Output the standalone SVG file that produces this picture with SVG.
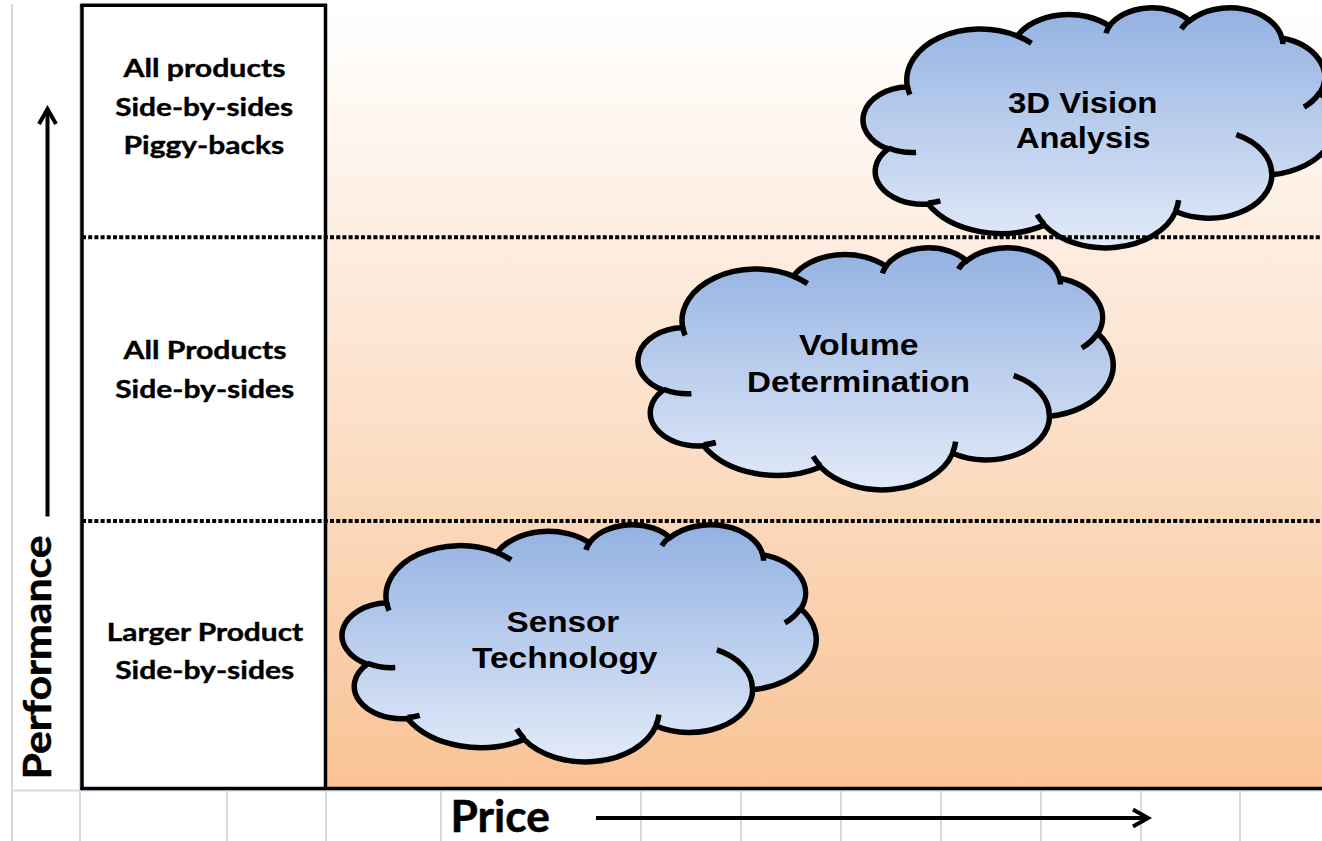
<svg xmlns="http://www.w3.org/2000/svg" xmlns:xlink="http://www.w3.org/1999/xlink" width="1322" height="841" viewBox="0 0 1322 841">
<style>
.grid{stroke:#d3d9e6;stroke-width:2;fill:none}
.frame{stroke:#000;stroke-width:3.5;fill:none}
.dots{stroke:#000;stroke-width:4;stroke-dasharray:4 2.2;fill:none}
.axis{stroke:#000;stroke-width:4;fill:none}
.lbl{font-family:Lato,"Open Sans","Liberation Sans",sans-serif;font-weight:700;font-size:24px;fill:#000;stroke:#000;stroke-width:0.4px}
.ctxt{font-family:"Liberation Sans",Arial,sans-serif;font-weight:700;font-size:29px;fill:#000}
.cloud{fill:url(#cloudGrad);stroke:#000;stroke-width:5.5px}
.cloudline{fill:none;stroke:#000;stroke-width:5.5px}
</style>
<defs>
<linearGradient id="bgGrad" x1="0" y1="0" x2="0" y2="1">
<stop offset="0" stop-color="#ffffff"/>
<stop offset="0.35" stop-color="#fdeadb"/>
<stop offset="1" stop-color="#f9c395"/>
</linearGradient>
<linearGradient id="cloudGrad" x1="0" y1="0" x2="0" y2="1">
<stop offset="0" stop-color="#93b1e2"/>
<stop offset="1" stop-color="#e2eaf8"/>
</linearGradient>
<marker id="head" markerUnits="userSpaceOnUse" viewBox="-20 -20 40 40" markerWidth="40" markerHeight="40" refX="0" refY="0" orient="auto" overflow="visible">
<path d="M-15,-8.5 L0,0 L-15,8.5" fill="none" stroke="#000" stroke-width="4"/>
</marker>
<path id="cloudOuter" vector-effect="non-scaling-stroke" d="M3900,14370 A6753,9190 0 0 1 14005,5202 A5333,7267 0 0 1 22456,3432 A4365,5945 0 0 1 29833,2481 A4857,6595 0 0 1 38318,5576 A5333,7273 0 0 1 41819,15460 A6775,9220 0 0 1 37405,30203 A5785,7867 0 0 1 28556,36813 A6752,9215 0 0 1 16481,39264 A7720,10543 0 0 1 5805,35470 A4360,5918 0 0 1 2114,25548 A4345,5945 0 0 1 3900,14370 Z"/>
<path id="cloudInner" vector-effect="non-scaling-stroke" d="M4693,26177 A4345,5945 0 0 1 2160,25380 M6928,34899 A4360,5918 0 0 1 5820,35280 M16478,39090 A6752,9215 0 0 1 15810,37350 M28827,34751 A6752,9215 0 0 1 28560,36660 M34129,22954 A5785,7867 0 0 1 37381,30090 M41798,15354 A5333,7273 0 0 1 40350,18030 M38324,5426 A4857,6595 0 0 1 38400,6690 M29078,3952 A4857,6595 0 0 1 29820,2341 M22141,4720 A4365,5945 0 0 1 22500,3330 M14000,5192 A6753,9190 0 0 1 15300,6541 M4127,15789 A6753,9190 0 0 1 3900,14370"/>
</defs>

<rect x="0" y="0" width="1322" height="841" fill="#ffffff"/>
<rect id="chart-area" x="325" y="5" width="997" height="784" fill="url(#bgGrad)"/>

<g id="gridlines">
<line class="grid" x1="12" y1="4" x2="12" y2="841"/>
<line class="grid" x1="80" y1="4" x2="80" y2="841"/>
<line class="grid" x1="12" y1="790.5" x2="1322" y2="790.5"/>
<line class="grid" x1="227" y1="790" x2="227" y2="841"/>
<line class="grid" x1="326" y1="790" x2="326" y2="841"/>
<line class="grid" x1="441" y1="790" x2="441" y2="841"/>
<line class="grid" x1="641" y1="790" x2="641" y2="841"/>
<line class="grid" x1="741" y1="790" x2="741" y2="841"/>
<line class="grid" x1="841" y1="790" x2="841" y2="841"/>
<line class="grid" x1="941" y1="790" x2="941" y2="841"/>
<line class="grid" x1="1041" y1="790" x2="1041" y2="841"/>
<line class="grid" x1="1141" y1="790" x2="1141" y2="841"/>
<line class="grid" x1="1240" y1="790" x2="1240" y2="841"/>
</g>

<g id="frame">
<line class="frame" x1="82" y1="4" x2="82" y2="790"/>
<line class="frame" x1="325.5" y1="4" x2="325.5" y2="790"/>
<line class="frame" x1="80.5" y1="5.3" x2="327" y2="5.3"/>
<line class="frame" x1="80.5" y1="788.5" x2="1322" y2="788.5"/>
</g>

<g id="cloud-sensor">
<g transform="translate(344,524) scale(0.0109259,0.0054861)">
<use xlink:href="#cloudOuter" class="cloud"/>
<use xlink:href="#cloudInner" class="cloudline"/>
</g>
<text class="ctxt" x="506.5" y="632.3" textLength="112.8" lengthAdjust="spacingAndGlyphs">Sensor</text>
<text class="ctxt" x="472" y="668.3" textLength="185.5" lengthAdjust="spacingAndGlyphs">Technology</text>
</g>

<g id="cloud-volume">
<g transform="translate(640,247) scale(0.0109491,0.0056019)">
<use xlink:href="#cloudOuter" class="cloud"/>
<use xlink:href="#cloudInner" class="cloudline"/>
</g>
<text class="ctxt" x="799" y="355" textLength="119.5" lengthAdjust="spacingAndGlyphs">Volume</text>
<text class="ctxt" x="747" y="391.7" textLength="223" lengthAdjust="spacingAndGlyphs">Determination</text>
</g>

<g id="cloud-3d">
<g transform="translate(865,7) scale(0.0108796,0.0055556)">
<use xlink:href="#cloudOuter" class="cloud"/>
<use xlink:href="#cloudInner" class="cloudline"/>
</g>
<text class="ctxt" x="1008" y="113.3" textLength="149.5" lengthAdjust="spacingAndGlyphs">3D Vision</text>
<text class="ctxt" x="1016" y="147.7" textLength="134.5" lengthAdjust="spacingAndGlyphs">Analysis</text>
</g>

<g id="tier-dividers">
<line class="dots" x1="82" y1="237.3" x2="1322" y2="237.3"/>
<line class="dots" x1="82" y1="521" x2="1322" y2="521"/>
</g>

<g id="label-top">
<text class="lbl" x="123.5" y="77.3" textLength="162" lengthAdjust="spacingAndGlyphs">All products</text>
<text class="lbl" x="115.2" y="115.7" textLength="178" lengthAdjust="spacingAndGlyphs">Side-by-sides</text>
<text class="lbl" x="123.5" y="154" textLength="160.7" lengthAdjust="spacingAndGlyphs">Piggy-backs</text>
</g>
<g id="label-middle">
<text class="lbl" x="123.5" y="359.3" textLength="163" lengthAdjust="spacingAndGlyphs">All Products</text>
<text class="lbl" x="115.2" y="397.7" textLength="179" lengthAdjust="spacingAndGlyphs">Side-by-sides</text>
</g>
<g id="label-bottom">
<text class="lbl" x="106.8" y="641" textLength="196.4" lengthAdjust="spacingAndGlyphs">Larger Product</text>
<text class="lbl" x="115.2" y="679.3" textLength="179" lengthAdjust="spacingAndGlyphs">Side-by-sides</text>
</g>

<g id="axes">
<line class="axis" x1="47.5" y1="516.5" x2="47.5" y2="109" marker-end="url(#head)"/>
<line class="axis" x1="596" y1="818" x2="1148" y2="818" marker-end="url(#head)"/>
<text class="lbl" style="font-size:39px;stroke-width:0.5px" transform="translate(51,779.5) rotate(-90)" x="0" y="0" textLength="244" lengthAdjust="spacingAndGlyphs">Performance</text>
<text class="lbl" style="font-size:43px;stroke-width:0.5px" x="450.5" y="831.7" textLength="99.5" lengthAdjust="spacingAndGlyphs">Price</text>
</g>
</svg>
